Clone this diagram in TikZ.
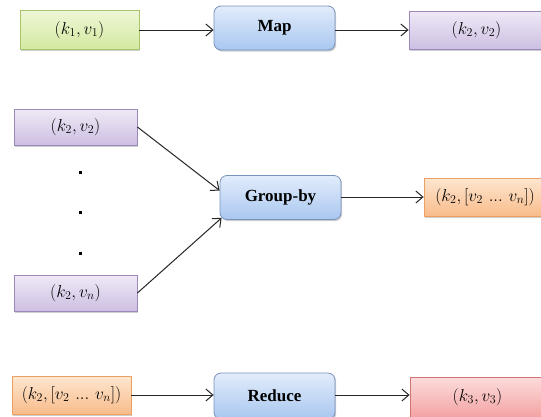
\documentclass[tikz,border=0pt]{standalone}
\usepackage{fontspec}
\setmainfont{Liberation Serif}
\newfontfamily\opfont{Liberation Serif}[BoldFont={* Bold}]
\usetikzlibrary{shadows,arrows.meta,calc}

\definecolor{grnT}{HTML}{EEF7D6}\definecolor{grnB}{HTML}{D2E9A0}\definecolor{grnD}{HTML}{A9C46E}
\definecolor{bluT}{HTML}{E2ECFB}\definecolor{bluB}{HTML}{A9C7F0}\definecolor{bluD}{HTML}{7892BC}
\definecolor{purT}{HTML}{EFE9F6}\definecolor{purB}{HTML}{CDBFE2}\definecolor{purD}{HTML}{9C88B9}
\definecolor{ornT}{HTML}{FDE6D0}\definecolor{ornB}{HTML}{F9BC8A}\definecolor{ornD}{HTML}{EDA064}
\definecolor{redT}{HTML}{FCDCDC}\definecolor{redB}{HTML}{F4A3A3}\definecolor{redD}{HTML}{CF7373}

% compact baseline ellipsis
\newcommand{\tightdots}{\mathinner{\ldotp\!\ldotp\!\ldotp}}

\tikzset{
  box/.style={draw, line width=0.8pt, inner sep=0pt, anchor=center,
    drop shadow={shadow xshift=1.2pt, shadow yshift=-1.6pt, opacity=0.35, fill=black!55}},
  kv/.style={box, font=\fontsize{18}{20}\selectfont},
  op/.style={box, rounded corners=7pt, minimum width=121pt, minimum height=44pt,
    top color=bluT, bottom color=bluB, draw=bluD,
    font=\opfont\fontsize{17}{19}\selectfont\bfseries},
  grnbox/.style={kv, top color=grnT, bottom color=grnB, draw=grnD},
  purbox/.style={kv, top color=purT, bottom color=purB, draw=purD},
  ornbox/.style={kv, top color=ornT, bottom color=ornB, draw=ornD},
  redbox/.style={kv, top color=redT, bottom color=redB, draw=redD},
  conn/.style={draw=black!85, line width=1pt, -{Straight Barb[length=7pt,width=12pt]}},
  dotmark/.style={fill=black, minimum size=3pt, inner sep=0pt}
}

\begin{document}
\begin{tikzpicture}[x=1pt, y=-1pt]
\useasboundingbox (0,0) rectangle (541,416);
\clip (0,0) rectangle (541,416);

% map stage
\node[grnbox, minimum width=119pt, minimum height=39pt] (in) at (79.5,30) {$(k_1,v_1)$};
\node[op] (map) at (274.5,28) {Map};
\node[purbox, minimum width=135pt, minimum height=38pt] (mid) at (476.5,30) {$(k_2,v_2)$};

% group-by stage
\node[purbox, minimum width=123pt, minimum height=36pt] (p1) at (75.5,127) {$(k_2,v_2)$};
\node[dotmark] (d1) at (80,172) {};
\node[dotmark] (d2) at (80,212) {};
\node[dotmark] (d3) at (80,253) {};
\node[purbox, minimum width=123pt, minimum height=36pt] (p2) at (75.5,293) {$(k_2,v_n)$};
\node[op] (grp) at (280.5,197.5) {Group-by};
\node[ornbox, minimum width=122pt, minimum height=38pt] (lst) at (485,197) {$(k_2,[v_2\,\tightdots\,v_n])$};

% reduce stage
\node[ornbox, minimum width=119pt, minimum height=38pt] (lst2) at (71.5,395) {$(k_2,[v_2\,\tightdots\,v_n])$};
\node[op, minimum height=46pt] (red) at (274.5,396) {Reduce};
\node[redbox, minimum width=135pt, minimum height=40pt] (out) at (477.5,397) {$(k_3,v_3)$};

% connectors
\draw[conn] (in.east) -- (in.east -| map.west);
\draw[conn] (map.east |- mid.west) -- (mid.west);
\draw[conn] (p1.east) -- ($(grp.west)+(0,-7)$);
\draw[conn] (p2.east) -- ($(grp.south west)+(2,-2)$);
\draw[conn] (grp.east |- lst.west) -- (lst.west);
\draw[conn] (lst2.east) -- (lst2.east -| red.west);
\draw[conn] (red.east |- lst2.east) -- (lst2.east -| out.west);
\end{tikzpicture}
\end{document}
